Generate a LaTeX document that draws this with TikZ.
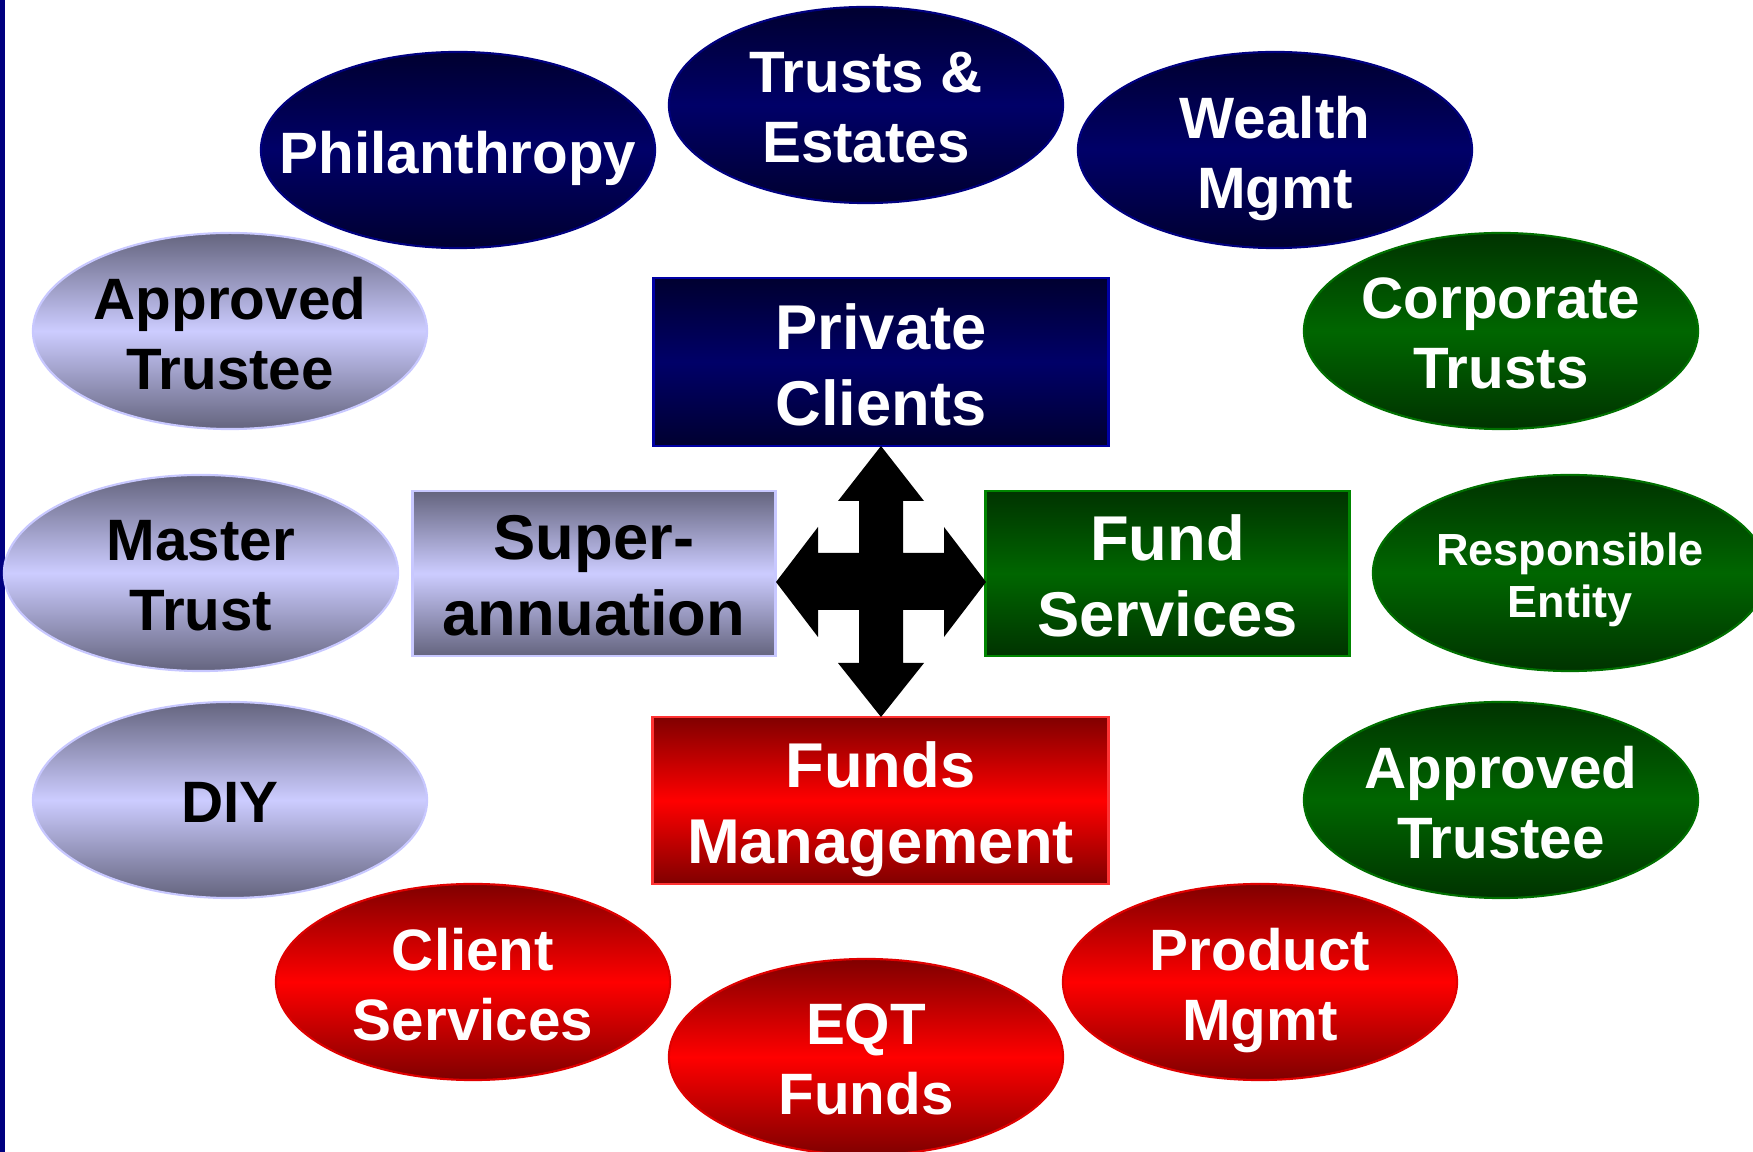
\documentclass[tikz,border=0pt]{standalone}
\usepackage{fontspec}
\setmainfont{Liberation Sans}
\usetikzlibrary{shapes.geometric}

\definecolor{navylo}{HTML}{000030}
\definecolor{navyhi}{HTML}{000068}
\definecolor{navyedge}{HTML}{000080}
\definecolor{lavlo}{HTML}{64647E}
\definecolor{lavhi}{HTML}{CCCCFF}
\definecolor{lavedge}{HTML}{C8C8FF}
\definecolor{grnlo}{HTML}{003300}
\definecolor{grnhi}{HTML}{006600}
\definecolor{grnedge}{HTML}{007000}
\definecolor{redlo}{HTML}{800000}
\definecolor{redhi}{HTML}{FF0000}
\definecolor{rededge}{HTML}{E00000}

\tikzset{
  navy/.style={top color=navylo, bottom color=navylo, middle color=navyhi, draw=navyedge},
  lav/.style={top color=lavlo, bottom color=lavlo, middle color=lavhi, draw=lavedge},
  grn/.style={top color=grnlo, bottom color=grnlo, middle color=grnhi, draw=grnedge},
  red/.style={top color=redlo, bottom color=redlo, middle color=redhi, draw=rededge},
  bubble/.style={ellipse, inner sep=0pt, minimum width=3.94cm, minimum height=1.96cm, line width=0.6pt},
  panel/.style={rectangle, inner sep=0pt, line width=0.8pt},
  btext/.style={align=center, text depth=0pt, yshift=-0.6pt, font=\bfseries\fontsize{16.6}{19.9}\selectfont},
  ptext/.style={btext, font=\bfseries\fontsize{18}{21.6}\selectfont},
}

\begin{document}
\begin{tikzpicture}[x=0.01cm, y=-0.01cm]
  \useasboundingbox (0,0) rectangle (1753,1152);
  \fill[navyedge] (0,0) rectangle (5,1152);

  % outer ring of ellipses
  \foreach \nm/\x/\y/\tone/\ink/\txt in {
      phil/458/150/navy/white/{Philanthropy},
      trusts/866/105/navy/white/{Trusts \&\\Estates},
      wealth/1275/150/navy/white/{Wealth\\Mgmt},
      apprl/230/331/lav/black/{Approved\\Trustee},
      master/201/573/lav/black/{Master\\Trust},
      diy/230/800/lav/black/{DIY},
      corp/1501/331/grn/white/{Corporate\\Trusts},
      apprr/1501/800/grn/white/{Approved\\Trustee},
      client/473/982/red/white/{Client\\Services},
      eqt/866/1057/red/white/{EQT\\Funds},
      product/1260/982/red/white/{Product\\Mgmt}} {
    \node[bubble, \tone] (\nm) at (\x,\y) {};
    \node[btext, text=\ink] (\nm-txt) at (\nm) {\txt};
  }
  \node[bubble, grn] (resp) at (1570,573) {};
  \node[btext, text=white, font=\bfseries\fontsize{12.8}{14.8}\selectfont] (resp-txt) at (resp) {Responsible\\Entity};

  % the four business units
  \node[panel, navy, draw=navyhi!60!blue, minimum width=4.54cm, minimum height=1.68cm] (pc) at (881,362) {};
  \node[panel, lav, minimum width=3.62cm, minimum height=1.65cm] (super) at (594,573.5) {};
  \node[panel, grn, draw=grnhi!80!green, minimum width=3.63cm, minimum height=1.65cm] (fs) at (1167.5,573.5) {};
  \node[panel, red, draw=red!80!white, minimum width=4.55cm, minimum height=1.67cm] (fm) at (880.5,800.5) {};
  \node[ptext, text=white] (pc-txt) at (pc) {Private\\Clients};
  \node[ptext, text=black] (super-txt) at (super) {Super-\\annuation};
  \node[ptext, text=white] (fs-txt) at (fs) {Fund\\Services};
  \node[ptext, text=white] (fm-txt) at (fm) {Funds\\Management};

  % four-way arrow in the middle
  \coordinate (hub) at (881,582);
  \fill[black, shift={(hub)}]
    (0,-136) -- (43,-81) -- (22,-81) -- (22,-29) -- (63,-29) -- (63,-55)
    -- (105,0) -- (63,55) -- (63,28) -- (22,28) -- (22,81) -- (43,81)
    -- (0,135) -- (-43,81) -- (-22,81) -- (-22,28) -- (-63,28) -- (-63,55)
    -- (-105,0) -- (-63,-55) -- (-63,-29) -- (-22,-29) -- (-22,-81) -- (-43,-81) -- cycle;
\end{tikzpicture}
\end{document}
